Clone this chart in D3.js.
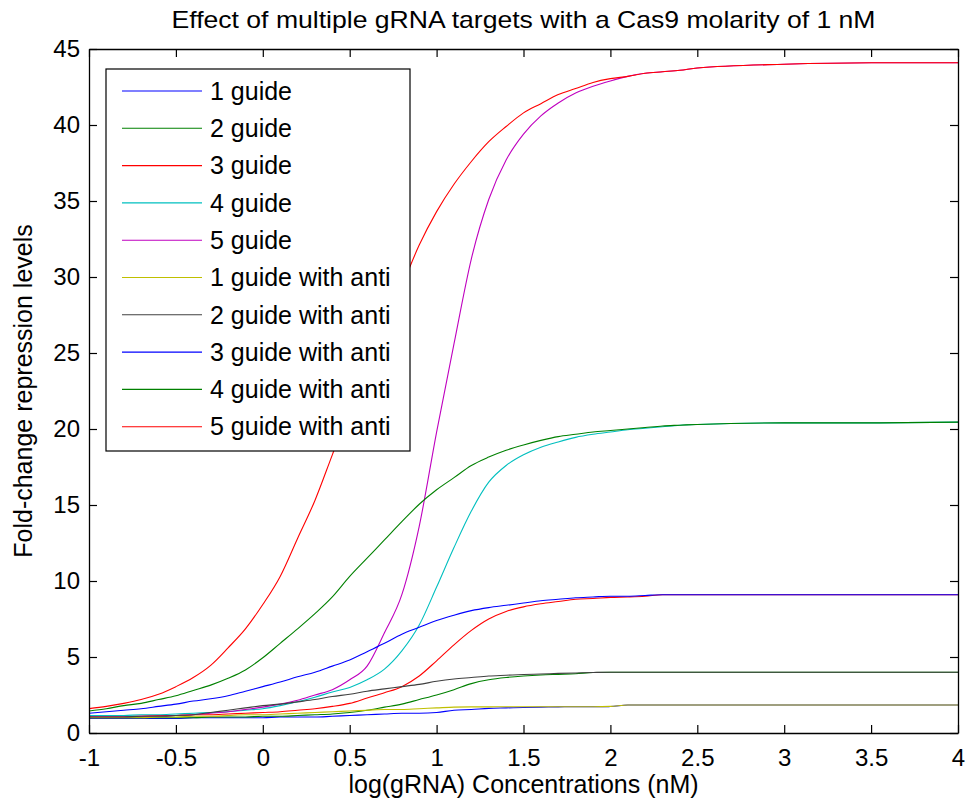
<!DOCTYPE html>
<html>
<head>
<meta charset="utf-8">
<script src="https://cdn.jsdelivr.net/npm/d3@7"></script>
<style>
  body { margin: 0; background: #fff; }
  text { font-family: "Liberation Sans", Arial, sans-serif; }
</style>
</head>
<body>
<div id="chart"></div>
<script>
// log(gRNA) concentration grid shared by all series
var xs = [-1,-0.9,-0.8,-0.7,-0.6,-0.5,-0.4,-0.3,-0.2,-0.1,0,0.1,0.2,0.3,0.4,0.5,0.6,0.7,0.8,0.9,
          1.0,1.1,1.2,1.3,1.4,1.5,1.6,1.7,1.8,1.9,2.0,2.1,2.2,2.3,2.4,2.5,3,3.5,4];

var guide1 = [0.95,0.95,0.95,0.95,0.95,0.95,1.0,1.0,1.0,1.0,1.0,1.05,1.05,1.05,1.1,1.15,1.2,1.25,1.3,1.3,
              1.35,1.5,1.55,1.62,1.65,1.68,1.7,1.72,1.73,1.73,1.74,1.84,1.84,1.84,1.84,1.84,1.84,1.84,1.84];
var guide2 = [1.0,1.0,1.0,1.0,1.0,1.0,1.0,1.05,1.05,1.05,1.1,1.1,1.15,1.2,1.25,1.35,1.5,1.7,1.9,2.2,
              2.5,2.85,3.25,3.5,3.65,3.75,3.82,3.86,3.9,3.98,4.0,4.0,4.0,4.0,4.0,4.0,4.0,4.0,4.0];
var guide3 = [1.1,1.1,1.1,1.1,1.15,1.15,1.2,1.2,1.25,1.3,1.35,1.4,1.5,1.6,1.75,1.95,2.3,2.65,3.05,3.75,
              4.75,5.8,6.75,7.5,8.0,8.3,8.5,8.65,8.8,8.85,8.92,8.95,9.0,9.1,9.1,9.1,9.1,9.1,9.1];
var guide4 = [1.15,1.15,1.15,1.2,1.2,1.25,1.3,1.35,1.4,1.5,1.6,1.8,2.05,2.35,2.7,3.0,3.5,4.2,5.4,7.1,
              9.6,12.2,14.6,16.5,17.6,18.3,18.8,19.15,19.45,19.65,19.8,19.95,20.05,20.15,20.25,20.3,20.4,20.4,20.45];
var guide5 = [1.05,1.05,1.05,1.1,1.1,1.15,1.2,1.3,1.4,1.55,1.7,1.9,2.15,2.5,2.85,3.5,4.4,6.6,9.1,13.6,
              19.8,25.6,31.2,35.1,37.7,39.4,40.6,41.45,42.1,42.55,42.9,43.2,43.4,43.5,43.6,43.75,44.0,44.1,44.1];
var anti1 = [1.0,1.0,1.0,1.0,1.05,1.05,1.1,1.1,1.15,1.2,1.2,1.25,1.3,1.35,1.4,1.45,1.5,1.55,1.55,1.6,
             1.65,1.7,1.72,1.72,1.73,1.73,1.73,1.73,1.73,1.73,1.75,1.84,1.84,1.84,1.84,1.84,1.84,1.84,1.84];
var anti2 = [1.05,1.05,1.05,1.1,1.1,1.15,1.2,1.35,1.5,1.65,1.8,1.9,2.05,2.2,2.4,2.55,2.75,2.9,3.05,3.2,
             3.4,3.55,3.65,3.75,3.8,3.85,3.88,3.92,3.95,3.98,4.0,4.0,4.0,4.0,4.0,4.0,4.0,4.0,4.0];
var anti3 = [1.3,1.4,1.5,1.6,1.75,1.9,2.1,2.25,2.45,2.75,3.05,3.35,3.7,4.0,4.4,4.8,5.35,5.9,6.5,6.95,
             7.4,7.75,8.05,8.25,8.4,8.55,8.7,8.8,8.9,8.95,9.0,9.0,9.05,9.1,9.1,9.1,9.1,9.1,9.1];
var anti4 = [1.45,1.6,1.8,1.95,2.2,2.45,2.8,3.15,3.6,4.15,4.95,5.9,6.85,7.85,8.95,10.3,11.5,12.7,13.9,15.05,
             16.0,16.8,17.6,18.15,18.6,18.95,19.25,19.5,19.65,19.8,19.9,20.0,20.1,20.2,20.25,20.3,20.4,20.4,20.45];
var anti5 = [1.6,1.75,1.95,2.2,2.55,3.05,3.65,4.45,5.6,6.85,8.45,10.3,12.8,15.3,18.3,21.3,24.1,26.8,29.4,32.1,
             34.3,36.1,37.6,38.9,39.9,40.8,41.4,42.0,42.4,42.8,43.05,43.2,43.4,43.5,43.6,43.75,44.0,44.1,44.1];

var seriesNames = ["1 guide","2 guide","3 guide","4 guide","5 guide",
                   "1 guide with anti","2 guide with anti","3 guide with anti","4 guide with anti","5 guide with anti"];
var seriesValues = [guide1, guide2, guide3, guide4, guide5, anti1, anti2, anti3, anti4, anti5];
var seriesColors = ["#0000ff","#008000","#ff0000","#00bfbf","#bf00bf",
                    "#bfbf00","#404040","#0000ff","#008000","#ff0000"];

var xTicks = [-1,-0.5,0,0.5,1,1.5,2,2.5,3,3.5,4];
var yTicks = [0,5,10,15,20,25,30,35,40,45];

var titleText = "Effect of multiple gRNA targets with a Cas9 molarity of 1 nM";
var xLabel = "log(gRNA) Concentrations (nM)";
var yLabel = "Fold-change repression levels";

//-MAIN--------------------------------------------------------------------//
var W = 968, H = 806;
var margin = {top: 49, right: 10, bottom: 73, left: 89},
    width = W - margin.left - margin.right,
    height = H - margin.top - margin.bottom;

var svg = d3.select("#chart").append("svg")
    .attr("width", W)
    .attr("height", H);

var g = svg.append("g")
    .attr("transform", `translate(${margin.left},${margin.top})`);

var xScale = d3.scaleLinear().domain([-1, 4]).range([0, width]);
var yScale = d3.scaleLinear().domain([0, 45]).range([height, 0]);

var tickLen = 8;
var fmt = d => String(d);

// curves
var line = d3.line()
    .x((d,i) => xScale(xs[i]))
    .y(d => yScale(d))
    .curve(d3.curveMonotoneX);

g.append("g").attr("class", "curves")
    .selectAll("path").data(seriesValues).enter().append("path")
    .attr("d", d => line(d))
    .attr("fill", "none")
    .attr("stroke", (d,i) => seriesColors[i])
    .attr("stroke-width", 1.1);

// axes (inward ticks on all four sides, MATLAB box)
var xAxis = d3.axisBottom(xScale).tickValues(xTicks).tickFormat(fmt)
    .tickSizeInner(-tickLen).tickSizeOuter(0).tickPadding(16);
var xAxisTop = d3.axisTop(xScale).tickValues(xTicks).tickFormat("")
    .tickSizeInner(-tickLen).tickSizeOuter(0);
var yAxis = d3.axisLeft(yScale).tickValues(yTicks).tickFormat(fmt)
    .tickSizeInner(-tickLen).tickSizeOuter(0).tickPadding(9);
var yAxisRight = d3.axisRight(yScale).tickValues(yTicks).tickFormat("")
    .tickSizeInner(-tickLen).tickSizeOuter(0);

var axes = [
    g.append("g").attr("transform", `translate(0,${height})`).call(xAxis),
    g.append("g").call(xAxisTop),
    g.append("g").call(yAxis),
    g.append("g").attr("transform", `translate(${width},0)`).call(yAxisRight)
];
axes.forEach(a => {
    a.selectAll("path.domain").attr("stroke", "#000").attr("stroke-width", 1.3);
    a.selectAll(".tick line").attr("stroke", "#000").attr("stroke-width", 1.2);
    a.selectAll(".tick text")
        .attr("fill", "#000")
        .style("font-family", '"Liberation Sans", Arial, sans-serif')
        .style("font-size", "24px");
});

// legend
var leg = g.append("g")
    .attr("transform", `translate(${106 - margin.left},${69 - margin.top})`);
leg.append("rect")
    .attr("width", 304).attr("height", 382)
    .attr("fill", "#fff").attr("stroke", "#000").attr("stroke-width", 1.2);
var rows = leg.selectAll("g.row").data(seriesNames).enter().append("g")
    .attr("class", "row")
    .attr("transform", (d,i) => `translate(0,${22 + i * 37.3})`);
rows.append("line")
    .attr("x1", 16).attr("x2", 96)
    .attr("stroke", (d,i) => seriesColors[i]).attr("stroke-width", 1.1);
rows.append("text")
    .attr("x", 104).attr("dy", "0.35em")
    .style("font-size", "25px")
    .attr("fill", "#000")
    .text(d => d);

// title and axis labels
svg.append("text")
    .attr("x", margin.left + width / 2).attr("y", 28)
    .attr("text-anchor", "middle")
    .attr("textLength", 704).attr("lengthAdjust", "spacingAndGlyphs")
    .style("font-size", "24px")
    .text(titleText);

svg.append("text")
    .attr("x", margin.left + width / 2).attr("y", 793)
    .attr("text-anchor", "middle")
    .style("font-size", "25px")
    .text(xLabel);

svg.append("text")
    .attr("transform", `translate(32,${margin.top + height / 2}) rotate(-90)`)
    .attr("text-anchor", "middle")
    .style("font-size", "25px")
    .text(yLabel);
</script>
</body>
</html>
